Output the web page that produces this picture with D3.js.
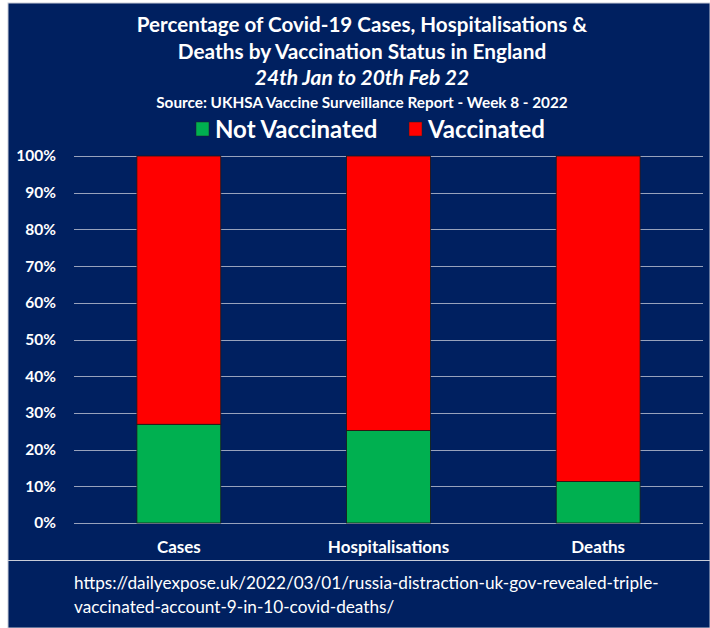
<!DOCTYPE html>
<html>
<head>
<meta charset="utf-8">
<script src="https://cdn.jsdelivr.net/npm/d3@7"></script>
<style>
  body { margin: 0; background: #fff; }
  text { font-family: Lato, "Open Sans", sans-serif; fill: #fff; }
</style>
</head>
<body>
<div class="canvas"></div>
<script>
// data
const categories = ['Cases', 'Hospitalisations', 'Deaths'];
const notVaccinated = [26.9, 25.2, 11.3];
const vaccinated = [73.1, 74.8, 88.7];
const yTicks = [0, 10, 20, 30, 40, 50, 60, 70, 80, 90, 100];
const seriesNames = ['Not Vaccinated', 'Vaccinated'];
const seriesColors = ['#00B050', '#FF0000'];

const svg = d3.select('.canvas')
  .append('svg')
    .attr('width', 710)
    .attr('height', 628);

// navy panel
svg.append('rect')
  .attr('x', 8).attr('y', 3)
  .attr('width', 702).attr('height', 625)
  .attr('fill', '#002060')
  .attr('stroke', '#c8ccd8')
  .attr('stroke-width', 1);
svg.append('line')
  .attr('x1', 8).attr('x2', 710)
  .attr('y1', 560.5).attr('y2', 560.5)
  .attr('stroke', '#c8ccd8');

// titles
const titles = [
  {t: 'Percentage of Covid-19 Cases, Hospitalisations &', y: 32, size: 20.6, style: 'normal'},
  {t: 'Deaths by Vaccination Status in England', y: 59, size: 20.8, style: 'normal'},
  {t: '24th Jan to 20th Feb 22', y: 85, size: 21, style: 'italic'},
  {t: 'Source: UKHSA Vaccine Surveillance Report - Week 8 - 2022', y: 108, size: 15.3, style: 'normal'}
];
svg.selectAll('.title')
  .data(titles)
  .enter().append('text')
    .attr('class', 'title')
    .attr('x', 362)
    .attr('y', d => d.y)
    .attr('text-anchor', 'middle')
    .attr('font-weight', 'bold')
    .attr('font-style', d => d.style)
    .attr('font-size', d => d.size)
    .text(d => d.t);

// legend
const legendX = [196, 409];
const legend = svg.selectAll('.legend')
  .data(seriesNames)
  .enter().append('g')
    .attr('transform', (d, i) => `translate(${legendX[i]}, 122)`);
legend.append('rect')
  .attr('width', 13).attr('height', 14)
  .attr('fill', (d, i) => seriesColors[i])
  .attr('stroke', '#222').attr('stroke-width', 0.5);
legend.append('text')
  .attr('x', 19).attr('y', 16)
  .attr('font-size', 24)
  .attr('font-weight', 'bold')
  .text(d => d);

//create margins and dimensions
const margin = {top: 156, left: 74};
const graphWidth = 629;
const graphHeight = 367;

const graph = svg.append('g')
  .attr('transform', `translate(${margin.left}, ${margin.top})`);

const y = d3.scaleLinear()
  .domain([0, 100])
  .range([graphHeight, 0]);
const x = d3.scaleBand()
  .domain(categories)
  .range([0, graphWidth])
  .paddingInner(0.6)
  .paddingOuter(0.3);

// gridlines
graph.selectAll('.grid')
  .data(yTicks)
  .enter().append('line')
    .attr('x1', 0).attr('x2', graphWidth)
    .attr('y1', d => Math.round(y(d)) + 0.5)
    .attr('y2', d => Math.round(y(d)) + 0.5)
    .attr('stroke', '#98a2bc')
    .attr('stroke-width', 1.2);

// stacked bars
const stackData = categories.map((c, i) => ({cat: c, nv: notVaccinated[i], v: vaccinated[i]}));
const stack = d3.stack().keys(['nv', 'v'])(stackData);
graph.selectAll('.series')
  .data(stack)
  .enter().append('g')
    .attr('fill', (d, i) => seriesColors[i])
  .selectAll('rect')
  .data(d => d)
  .enter().append('rect')
    .attr('x', d => x(d.data.cat))
    .attr('width', x.bandwidth())
    .attr('y', d => y(d[1]))
    .attr('height', d => y(d[0]) - y(d[1]))
    .attr('stroke', '#1a1a1a')
    .attr('stroke-width', 0.8);

// axes
const yAxis = d3.axisLeft(y)
  .tickValues(yTicks)
  .tickSize(0)
  .tickPadding(18)
  .tickFormat(d => d + '%');
const xAxis = d3.axisBottom(x)
  .tickSize(0)
  .tickPadding(18);

const yAxisGroup = graph.append('g').call(yAxis);
const xAxisGroup = graph.append('g')
  .attr('transform', `translate(0, ${graphHeight})`)
  .call(xAxis);
[yAxisGroup, xAxisGroup].forEach(g => {
  g.select('.domain').remove();
  g.selectAll('text')
    .attr('fill', '#fff')
    .attr('font-family', 'Lato, sans-serif')
    .attr('font-weight', 'bold');
});
yAxisGroup.selectAll('text').attr('font-size', 15.5);
xAxisGroup.selectAll('text').attr('font-size', 17);

// source url
const urlLines = [
  'https://dailyexpose.uk/2022/03/01/russia-distraction-uk-gov-revealed-triple-',
  'vaccinated-account-9-in-10-covid-deaths/'
];
svg.selectAll('.url')
  .data(urlLines)
  .enter().append('text')
    .attr('x', 74)
    .attr('y', (d, i) => 589 + i * 24)
    .attr('font-size', 17.2)
    .text(d => d);
</script>
</body>
</html>
